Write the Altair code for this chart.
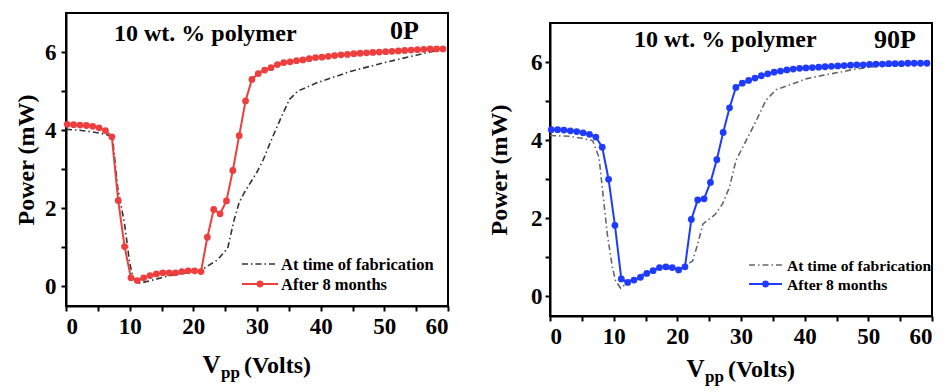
import altair as alt
import pandas as pd

FONT = "'Liberation Serif', 'Times New Roman', Times, 'DejaVu Serif', serif"
W, H = 382, 293

# Drive voltage (V_pp, Volts) of the measured points
V_POINTS = [0.2, 1.2, 2.2, 3.2, 4.2, 5.2, 6.2, 7.2, 8.2, 9.2,
            10.2, 11.2, 12.2, 13.2, 14.2, 15.2, 16.2, 17.2, 18.2, 19.2,
            20.2, 21.2, 22.2, 23.2, 24.2, 25.2, 26.2, 27.2, 28.2, 29.2,
            30.2, 31.2, 32.2, 33.2, 34.2, 35.2, 36.2, 37.2, 38.2, 39.2,
            40.2, 41.2, 42.2, 43.2, 44.2, 45.2, 46.2, 47.2, 48.2, 49.2,
            50.2, 51.2, 52.2, 53.2, 54.2, 55.2, 56.2, 57.2, 58.2, 59.2]

# 0P, after 8 months (mW)
P_0P_AFTER = [4.15, 4.14, 4.13, 4.12, 4.10, 4.06, 3.99, 3.83, 2.20, 1.02,
              0.22, 0.15, 0.22, 0.28, 0.32, 0.35, 0.35, 0.35, 0.38, 0.40,
              0.40, 0.38, 1.26, 1.97, 1.86, 2.19, 2.97, 3.86, 4.75, 5.30,
              5.45, 5.54, 5.60, 5.68, 5.73, 5.75, 5.78, 5.80, 5.83, 5.86,
              5.87, 5.89, 5.91, 5.93, 5.94, 5.96, 5.97, 5.98, 5.99, 6.00,
              6.01, 6.02, 6.03, 6.04, 6.05, 6.06, 6.07, 6.08, 6.08, 6.08]

# 0P, at time of fabrication
V_0P_FAB = [0, 2, 4, 5.5, 6.5, 7.3, 8.1, 9.2, 10.0, 10.5, 11.2, 12, 14, 16, 18,
            20, 21.2, 22, 23.8, 25.4, 26.4, 27.2, 28, 30, 31, 32.2, 33.8, 35.1,
            36.4, 39.5, 44.8, 50, 55, 59.2]
P_0P_FAB = [4.02, 4.00, 3.96, 3.92, 3.88, 3.82, 2.55, 1.60, 0.60, 0.25, 0.08, 0.10,
            0.18, 0.27, 0.33, 0.37, 0.40, 0.50, 0.68, 0.98, 1.70, 2.15, 2.40, 2.93,
            3.25, 3.73, 4.33, 4.79, 5.00, 5.22, 5.51, 5.73, 5.92, 6.08]

# 90P, after 8 months (mW)
P_90P_AFTER = [4.27, 4.27, 4.26, 4.24, 4.22, 4.19, 4.15, 4.08, 3.82, 3.00,
               1.82, 0.45, 0.36, 0.42, 0.49, 0.59, 0.66, 0.74, 0.76, 0.74,
               0.68, 0.76, 1.97, 2.47, 2.50, 2.92, 3.50, 4.20, 4.83, 5.35,
               5.46, 5.53, 5.59, 5.65, 5.70, 5.74, 5.77, 5.80, 5.82, 5.84,
               5.85, 5.86, 5.87, 5.88, 5.89, 5.90, 5.91, 5.92, 5.93, 5.93,
               5.94, 5.95, 5.95, 5.96, 5.96, 5.96, 5.97, 5.97, 5.97, 5.97]

# 90P, at time of fabrication
V_90P_FAB = [0, 3, 5, 6.7, 7.7, 8.2, 9.0, 9.8, 10.3, 11.1, 12.4, 15.6, 18.2, 20.8,
             22.4, 23.2, 24, 25, 26, 27.1, 28.2, 29.2, 30.8, 32.4, 33.9, 35.5,
             38.1, 40.2, 42.8, 45.5, 47.6, 50.2, 55, 59.2]
P_90P_FAB = [4.12, 4.10, 4.05, 3.99, 3.56, 2.80, 1.60, 0.74, 0.40, 0.21, 0.40, 0.66,
             0.70, 0.74, 0.91, 1.34, 1.85, 1.98, 2.11, 2.37, 2.80, 3.48, 3.99, 4.50,
             5.02, 5.29, 5.44, 5.57, 5.66, 5.74, 5.81, 5.87, 5.93, 5.97]

X_TICKS = [0, 5, 10, 15, 20, 25, 30, 35, 40, 45, 50, 55, 60]
Y_TICKS = [0, 1, 2, 3, 4, 5, 6]

LEGEND_FAB = "At time of fabrication"
LEGEND_AFTER = "After 8 months"
TITLE = "10 wt. % polymer"


def text_layer(text, px, py, size, align="left"):
    return alt.Chart(pd.DataFrame({"t": [text]})).mark_text(
        font=FONT, fontWeight="bold", fontSize=size, align=align,
        baseline="alphabetic", color="black"
    ).encode(x=alt.value(px), y=alt.value(py), text="t:N")


def panel(p_after, v_fab, p_fab, color, fab_color, tag, lay):
    after = pd.DataFrame({"V": V_POINTS, "P": p_after})
    fab = pd.DataFrame({"V": v_fab, "P": p_fab})
    x = alt.X("V:Q", scale=alt.Scale(domain=[0, 60], nice=False, zero=False),
              axis=alt.Axis(values=X_TICKS, title=None, labelPadding=4,
                            labelExpr="datum.value % 10 == 0 ? datum.label : ''"))
    y = alt.Y("P:Q", scale=alt.Scale(domain=[-0.5, 7], nice=False, zero=False),
              axis=alt.Axis(values=Y_TICKS, title="Power (mW)",
                            titlePadding=lay["tp"], labelPadding=lay["lp"],
                            labelExpr="datum.value % 2 == 0 ? datum.label : ''"))
    fab_line = alt.Chart(fab).mark_line(
        color=fab_color, strokeWidth=1.6, strokeDash=[6, 3, 1.5, 3]
    ).encode(x=x, y=y)
    after_line = alt.Chart(after).mark_line(
        color=color, strokeWidth=2,
        point=alt.OverlayMarkDef(filled=True, size=46, color=color, opacity=1)
    ).encode(x=x, y=y)

    one = pd.DataFrame({"k": [0]})
    lx0, lx1, ly0, ly1, ltx = lay["leg"]
    leg_fab = alt.Chart(one).mark_rule(
        color=fab_color, strokeWidth=1.6, strokeDash=[6, 3, 1.5, 3]
    ).encode(x=alt.value(lx0), x2=alt.value(lx1), y=alt.value(ly0))
    leg_after = alt.Chart(one).mark_rule(color=color, strokeWidth=2).encode(
        x=alt.value(lx0), x2=alt.value(lx1), y=alt.value(ly1))
    leg_dot = alt.Chart(one).mark_point(
        filled=True, size=46, color=color, opacity=1
    ).encode(x=alt.value((lx0 + lx1) / 2), y=alt.value(ly1))

    tx, ty, px, py = lay["title"]
    xt = lay["xt"]
    layers = [
        fab_line, after_line,
        text_layer(TITLE, tx, ty, 24),
        text_layer(tag, px, py, 26, align="right"),
        leg_fab, leg_after, leg_dot,
        text_layer(LEGEND_FAB, ltx, ly0 + 6, lay["lfs"]),
        text_layer(LEGEND_AFTER, ltx, ly1 + 6, lay["lfs"]),
        text_layer("V", 136.5, H + xt, 25),
        text_layer("pp", 155, H + xt + 5, 17),
        text_layer("(Volts)", 178, H + xt, 24),
    ]
    return alt.layer(*layers).properties(width=W, height=H)


left = panel(P_0P_AFTER, V_0P_FAB, P_0P_FAB, "#EE3E3E", "#333333", "0P",
             {"tp": 6, "lp": 5, "leg": (176, 212, 251, 271, 215), "lfs": 16.5,
              "title": (48, 28, 353, 26), "xt": 67})
right = panel(P_90P_AFTER, V_90P_FAB, P_90P_FAB, "#1F3BFF", "#666666", "90P",
              {"tp": 19, "lp": 3, "leg": (199, 232, 242, 261, 237), "lfs": 15.6,
               "title": (84, 24, 366, 25), "xt": 61})

spacer = alt.Chart(pd.DataFrame({"k": [0]})).mark_point(opacity=0).encode(
    x=alt.value(0), y=alt.value(0)
).properties(width=W, height=1, view=alt.ViewBackground(strokeOpacity=0))

right_col = alt.vconcat(spacer, right, spacing=6)

chart = alt.hconcat(left, right_col, spacing=36).configure_view(
    stroke="black", strokeWidth=2
).configure_axis(
    grid=False, domainColor="black", domainWidth=2, tickColor="black",
    tickWidth=2, tickSize=5, labelFont=FONT, labelFontWeight="bold",
    labelFontSize=23, labelColor="black", titleFont=FONT, titleFontSize=24,
    titleFontWeight="bold", titleColor="black"
).properties(padding={"left": 5, "top": 2, "right": 0, "bottom": 0})

chart.save("out.html", embed_options={"renderer": "svg", "actions": False})
